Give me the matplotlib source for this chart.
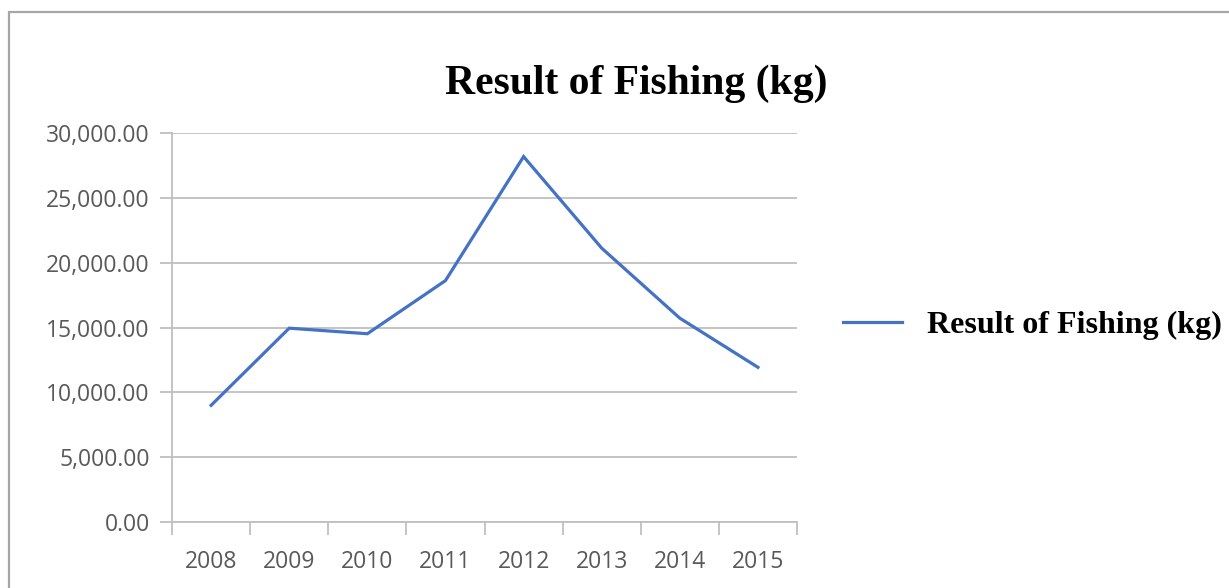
import matplotlib
matplotlib.use("Agg")
import matplotlib.pyplot as plt
from matplotlib.patches import Rectangle
from matplotlib.ticker import FuncFormatter, FixedLocator

# Data
years = ["2008", "2009", "2010", "2011", "2012", "2013", "2014", "2015"]
catch_kg = [9000, 14950, 14520, 18620, 28180, 21120, 15720, 11930]
y_ticks = [0, 5000, 10000, 15000, 20000, 25000, 30000]

line_color = "#4472C4"
grid_color = "#BFBFBF"
label_color = "#595959"

fig = plt.figure(figsize=(12.29, 5.88), dpi=100)
ax = fig.add_axes([0.14, 0.1122, 0.5085, 0.6616])

x = list(range(len(years)))
ax.plot(x, catch_kg, color=line_color, linewidth=2.3, solid_joinstyle="miter",
        label="Result of Fishing (kg)")

ax.set_xlim(-0.5, len(years) - 0.5)
ax.set_ylim(0, 30000)
ax.set_yticks(y_ticks)
ax.yaxis.set_major_formatter(FuncFormatter(lambda v, p: f"{v:,.2f}"))
ax.grid(axis="y", color=grid_color, linewidth=1.3)
ax.set_axisbelow(True)

# category ticks on boundaries, labels at centres
ax.set_xticks(x)
ax.set_xticklabels(years)
ax.xaxis.set_minor_locator(FixedLocator([i - 0.5 for i in range(len(years) + 1)]))
ax.tick_params(axis="x", which="major", length=0, pad=20)
ax.tick_params(axis="x", which="minor", length=9, width=1.3, color=grid_color, direction="out")
ax.tick_params(axis="y", length=9, width=1.3, color=grid_color, pad=7)

for lbl in ax.get_xticklabels() + ax.get_yticklabels():
    lbl.set_fontfamily("Open Sans")
    lbl.set_fontsize(16.5)
    lbl.set_color(label_color)

for side in ["top", "right"]:
    ax.spines[side].set_visible(False)
ax.spines["left"].set_color(grid_color)
ax.spines["left"].set_linewidth(1.3)
ax.spines["bottom"].set_color(grid_color)
ax.spines["bottom"].set_linewidth(1.3)

fig.text(0.518, 0.857, "Result of Fishing (kg)", ha="center", va="center",
         fontfamily="Liberation Serif", fontweight="bold", fontsize=30)

leg = ax.legend(loc="center left", bbox_to_anchor=(1.0535, 0.505), frameon=False,
                borderaxespad=0, handlelength=1.85, handletextpad=0.78,
                prop={"family": "Liberation Serif", "weight": "bold", "size": 23})

# outer chart border (only top and left edges are visible)
fig.patches.append(Rectangle((9 / 1229, -0.1), 1.2, (588 - 12) / 588 + 0.1,
                             transform=fig.transFigure, fill=False,
                             edgecolor="#A6A6A6", linewidth=1.6))

fig.savefig("out.png", dpi=100)
